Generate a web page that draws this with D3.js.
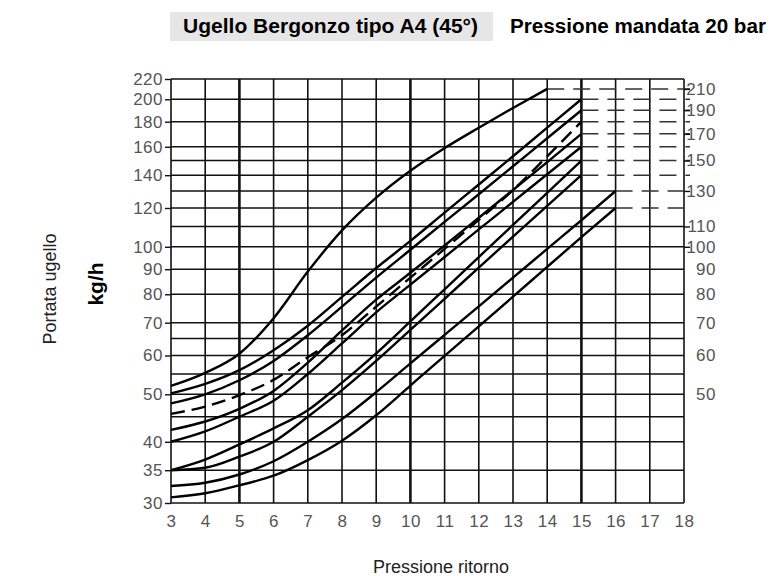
<!DOCTYPE html>
<html>
<head>
<meta charset="utf-8">
<script src="https://cdn.jsdelivr.net/npm/d3@7"></script>
<style>
  body { margin: 0; background: #fff; }
  svg { display: block; font-family: "Liberation Sans", Arial, sans-serif; }
</style>
</head>
<body>
<div id="chart"></div>
<script>
// pressione ritorno (bar) -> portata ugello (kg/h)
const xLabels = [3,4,5,6,7,8,9,10,11,12,13,14,15,16,17,18]
const leftTicks = [30,35,40,50,60,70,80,90,100,120,140,160,180,200,220]
const rightTicks = [50,60,70,80,90,100,110,130,150,170,190,210]
const gridRows = [30,35,40,45,50,55,60,65,70,80,90,100,110,120,130,140,150,160,180,200,220]

const xCurve14 = [3,4,5,6,7,8,9,10,11,12,13,14]
const xCurve15 = [3,4,5,6,7,8,9,10,11,12,13,14,15]
const xCurve16 = [3,4,5,6,7,8,9,10,11,12,13,14,15,16]

const curvaA = [52, 55.3, 60.5, 71.5, 89, 108, 126, 143, 159, 175, 192, 210]
const curvaB = [50.2, 52.5, 56, 61.5, 69, 79, 90.5, 102.8, 117.4, 134, 153, 175, 200]
const curvaC = [47.9, 50, 53.4, 58.5, 66, 75.5, 86.5, 98.6, 112.4, 128, 146, 166.5, 190]
const curvaD = [45.6, 47.2, 49.8, 53.5, 59.5, 66, 75.5, 86.5, 99, 113.5, 130.5, 153, 180]
const curvaE = [42.3, 44, 46.7, 50.8, 58, 67.5, 78, 88.5, 100.6, 114.6, 130.6, 148.9, 170]
const curvaF = [40, 42, 45, 48.5, 55, 63.5, 73.5, 83.7, 95.3, 108.5, 123.5, 140.6, 160]
const curvaG = [35, 36.8, 39.5, 42.6, 46.4, 52.8, 60.6, 70.4, 81.9, 95.3, 110.8, 128.9, 150]
const curvaH = [35, 35.4, 37.3, 40, 45, 51, 58.5, 67.7, 78.3, 90.7, 104.9, 121.2, 140]
const curvaI = [32.5, 33, 34.3, 36.5, 40, 44.5, 50.5, 57.8, 66.1, 75.6, 86.5, 99, 113.3, 130]
const curvaJ = [30.8, 31.4, 32.6, 34.1, 36.7, 40.2, 45.3, 52.1, 59.9, 68.8, 79.1, 91, 104.6, 120]

const curves = [
  {xs: xCurve14, ys: curvaA, dashed: false},
  {xs: xCurve15, ys: curvaB, dashed: false},
  {xs: xCurve15, ys: curvaC, dashed: false},
  {xs: xCurve15, ys: curvaD, dashed: true},
  {xs: xCurve15, ys: curvaE, dashed: false},
  {xs: xCurve15, ys: curvaF, dashed: false},
  {xs: xCurve15, ys: curvaG, dashed: false},
  {xs: xCurve15, ys: curvaH, dashed: false},
  {xs: xCurve16, ys: curvaI, dashed: false},
  {xs: xCurve16, ys: curvaJ, dashed: false}
]

const width = 776, height = 576
const margin = {top: 79, right: 92, bottom: 73, left: 171}

const x = d3.scaleLinear().domain([3, 18]).range([margin.left, width - margin.right])
const y = d3.scaleLog().domain([30, 220]).range([height - margin.bottom, margin.top])

const svg = d3.select("#chart").append("svg")
    .attr("width", width).attr("height", height)

// title
svg.append("rect").attr("x", 170).attr("y", 12).attr("width", 323).attr("height", 29).attr("fill", "#e6e6e6")
svg.append("text").attr("x", 183).attr("y", 33).attr("font-size", 20).attr("font-weight", "bold")
    .attr("textLength", 295).attr("lengthAdjust", "spacingAndGlyphs")
    .text("Ugello Bergonzo tipo A4 (45°)")
svg.append("text").attr("x", 510).attr("y", 33).attr("font-size", 20).attr("font-weight", "bold")
    .attr("textLength", 256).attr("lengthAdjust", "spacingAndGlyphs")
    .text("Pressione mandata 20 bar")

// dashed reference lines from curve ends to the right edge
const ends = curves.map(c => ({x0: c.xs[c.xs.length-1], v: c.ys[c.ys.length-1]}))
const solidEnd = v => {
  if (v <= 110 || v >= 220) return 18
  const e = ends.find(d => Math.abs(d.v - v) < 0.5)
  return e ? e.x0 : 15
}

const grid = svg.append("g").attr("stroke", "#111")
grid.selectAll(".row").data(gridRows).join("line")
    .attr("x1", x(3)).attr("x2", d => x(solidEnd(d)))
    .attr("y1", d => y(d)).attr("y2", d => y(d))
    .attr("stroke-width", 1.6)
grid.selectAll(".col").data(xLabels).join("line")
    .attr("x1", d => x(d)).attr("x2", d => x(d))
    .attr("y1", y(30)).attr("y2", y(220))
    .attr("stroke-width", d => d % 5 === 0 ? 2.6 : 1.6)

svg.append("g").selectAll("line").data(ends).join("line")
    .attr("x1", d => x(d.x0)).attr("x2", x(18) + 6)
    .attr("y1", d => y(d.v)).attr("y2", d => y(d.v))
    .attr("stroke", "#333").attr("stroke-width", 1.5)
    .attr("stroke-dasharray", "17,9")

// curves
const line = d3.line()
    .curve(d3.curveMonotoneX)
    .x(d => x(d[0]))
    .y(d => y(d[1]))

svg.append("g").selectAll("path").data(curves).join("path")
    .attr("d", c => line(c.xs.map((v, i) => [v, c.ys[i]])))
    .attr("fill", "none")
    .attr("stroke", "#000")
    .attr("stroke-width", 2.4)
    .attr("stroke-linejoin", "round")
    .attr("stroke-dasharray", c => c.dashed ? "14,7" : null)

// axes
const tickStyle = g => {
  g.select(".domain").remove()
  g.selectAll("text").attr("fill", "#555").attr("font-size", 17)
    .attr("letter-spacing", 0.5)
    .attr("font-family", "'Liberation Sans', Arial, sans-serif")
  g.selectAll("line").attr("stroke", "#111").attr("stroke-width", 1.4)
}

svg.append("g")
    .attr("transform", `translate(${x(3)},0)`)
    .call(d3.axisLeft(y).tickValues(leftTicks).tickFormat(d3.format("d")).tickSize(6).tickPadding(2))
    .call(tickStyle)

svg.append("g")
    .attr("transform", `translate(${x(18)},0)`)
    .call(d3.axisRight(y).tickValues(rightTicks).tickFormat(d3.format("d")).tickSize(6).tickPadding(26))
    .call(tickStyle)
    .call(g => g.selectAll(".tick line").filter(d => d < 100).remove())
    .call(g => g.selectAll("text").attr("text-anchor", "end"))

svg.append("g")
    .attr("transform", `translate(0,${y(30)})`)
    .call(d3.axisBottom(x).tickValues(xLabels).tickFormat(d3.format("d")).tickSize(0).tickPadding(12))
    .call(tickStyle)

// axis titles
svg.append("text").attr("transform", "translate(56,289) rotate(-90)")
    .attr("text-anchor", "middle").attr("font-size", 18).attr("fill", "#222")
    .text("Portata ugello")
svg.append("text").attr("transform", "translate(103,284) rotate(-90)")
    .attr("text-anchor", "middle").attr("font-size", 21).attr("font-weight", "bold")
    .text("kg/h")
svg.append("text").attr("x", 441).attr("y", 573)
    .attr("text-anchor", "middle").attr("font-size", 18).attr("fill", "#222")
    .text("Pressione ritorno")
</script>
</body>
</html>
